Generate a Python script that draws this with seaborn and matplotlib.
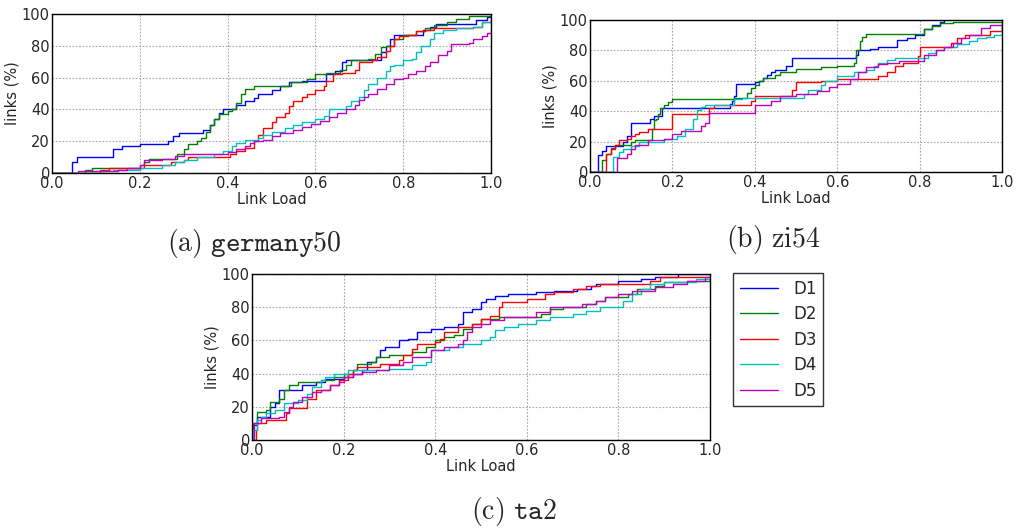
import matplotlib
matplotlib.use("Agg")
import matplotlib.pyplot as plt
import seaborn as sns
import pandas as pd

# Step points (link load, cumulative % of links) for each demand set D1..D5
series_names = ["D1", "D2", "D3", "D4", "D5"]
series_colors = ["#0000ff", "#008000", "#ff0000", "#00bfbf", "#bf00bf"]

# --- germany50 ---
germany50_d1 = [(0.0, 0), (0.045, 7), (0.057, 10), (0.139, 15), (0.16, 17), (0.2, 18), (0.265, 20),
                (0.275, 23), (0.29, 25), (0.345, 27), (0.36, 30), (0.37, 34), (0.38, 38), (0.39, 40),
                (0.42, 43), (0.44, 45), (0.46, 47), (0.47, 50), (0.5, 52), (0.52, 55), (0.54, 57),
                (0.57, 58), (0.625, 62), (0.645, 64), (0.66, 70), (0.67, 71), (0.75, 76), (0.76, 80),
                (0.77, 84), (0.78, 87), (0.845, 90), (0.86, 92), (0.875, 94), (0.965, 96), (0.99, 98),
                (1.0, 98)]
germany50_d2 = [(0.0, 0), (0.075, 2), (0.09, 3), (0.2, 5), (0.21, 7), (0.22, 9), (0.285, 12), (0.3, 15),
                (0.31, 18), (0.33, 20), (0.34, 22), (0.35, 26), (0.36, 30), (0.37, 34), (0.38, 37),
                (0.4, 39), (0.41, 40), (0.42, 44), (0.43, 50), (0.44, 53), (0.46, 55), (0.545, 57),
                (0.58, 59), (0.6, 62), (0.625, 63), (0.655, 65), (0.67, 68), (0.68, 71), (0.72, 72),
                (0.735, 75), (0.75, 79), (0.76, 80), (0.78, 84), (0.8, 87), (0.83, 89), (0.85, 91),
                (0.87, 93), (0.9, 95), (0.92, 97), (0.95, 99), (1.0, 99)]
germany50_d3 = [(0.0, 0), (0.11, 2), (0.13, 3), (0.21, 5), (0.27, 7), (0.3, 8), (0.31, 10), (0.405, 12),
                (0.42, 14), (0.44, 16), (0.46, 20), (0.47, 24), (0.48, 28), (0.5, 32), (0.51, 35),
                (0.53, 38), (0.54, 42), (0.55, 45), (0.57, 48), (0.58, 50), (0.6, 52), (0.62, 55),
                (0.625, 58), (0.64, 62), (0.66, 63), (0.69, 65), (0.7, 70), (0.73, 71), (0.74, 73),
                (0.76, 77), (0.77, 80), (0.78, 84), (0.79, 86), (0.81, 87), (0.83, 89), (0.85, 90),
                (0.87, 91), (0.96, 92), (0.98, 95), (1.0, 97)]
germany50_d4 = [(0.0, 0), (0.09, 1), (0.14, 2), (0.2, 3), (0.25, 5), (0.28, 7), (0.3, 8), (0.33, 10),
                (0.37, 12), (0.39, 14), (0.41, 17), (0.42, 19), (0.44, 21), (0.47, 22), (0.48, 24),
                (0.5, 26), (0.53, 28), (0.55, 30), (0.57, 32), (0.6, 34), (0.62, 36), (0.63, 40),
                (0.67, 42), (0.68, 45), (0.7, 48), (0.71, 52), (0.72, 56), (0.74, 60), (0.76, 64),
                (0.77, 67), (0.78, 68), (0.8, 71), (0.82, 72), (0.83, 76), (0.84, 80), (0.86, 84),
                (0.87, 88), (0.89, 90), (0.92, 91), (0.96, 92), (0.98, 95), (1.0, 96)]
germany50_d5 = [(0.0, 0), (0.06, 1), (0.15, 2), (0.17, 3), (0.2, 5), (0.21, 8), (0.25, 9), (0.28, 11),
                (0.3, 12), (0.4, 13), (0.42, 15), (0.44, 17), (0.45, 19), (0.46, 20), (0.48, 21),
                (0.5, 23), (0.52, 25), (0.55, 27), (0.57, 29), (0.59, 31), (0.61, 33), (0.63, 35),
                (0.65, 38), (0.67, 40), (0.69, 43), (0.7, 46), (0.71, 48), (0.72, 50), (0.74, 53),
                (0.76, 56), (0.78, 59), (0.8, 60), (0.81, 62), (0.83, 64), (0.85, 67), (0.86, 70),
                (0.88, 74), (0.9, 77), (0.91, 81), (0.95, 82), (0.96, 84), (0.98, 86), (0.99, 88),
                (1.0, 90)]

# --- zi54 ---
zi54_d1 = [(0.0, 0), (0.02, 11), (0.03, 14), (0.04, 17), (0.08, 20), (0.09, 24), (0.1, 32), (0.145, 35),
           (0.155, 37), (0.175, 42), (0.34, 45), (0.345, 47), (0.35, 50), (0.355, 58), (0.4, 59),
           (0.41, 60), (0.42, 62), (0.43, 64), (0.44, 66), (0.45, 67), (0.475, 70), (0.49, 75),
           (0.645, 77), (0.65, 80), (0.68, 81), (0.7, 82), (0.745, 87), (0.77, 88), (0.79, 90),
           (0.81, 94), (0.83, 97), (0.85, 99), (0.86, 100)]
zi54_d2 = [(0.0, 0), (0.03, 8), (0.04, 12), (0.05, 16), (0.06, 18), (0.1, 20), (0.11, 21), (0.15, 28),
           (0.155, 34), (0.16, 35), (0.165, 38), (0.17, 42), (0.18, 44), (0.19, 46), (0.2, 48),
           (0.35, 49), (0.38, 52), (0.39, 55), (0.4, 57), (0.41, 60), (0.42, 62), (0.45, 64),
           (0.46, 66), (0.5, 68), (0.56, 69), (0.6, 70), (0.64, 72), (0.645, 80), (0.655, 86),
           (0.66, 89), (0.67, 91), (0.81, 94), (0.83, 96), (0.85, 98), (0.88, 99), (1.0, 99)]
zi54_d3 = [(0.0, 0), (0.04, 12), (0.05, 15), (0.06, 18), (0.07, 21), (0.09, 22), (0.1, 24), (0.11, 25),
           (0.12, 26), (0.14, 28), (0.2, 38), (0.29, 42), (0.3, 44), (0.39, 47), (0.4, 50), (0.49, 54),
           (0.5, 59), (0.56, 60), (0.6, 61), (0.7, 63), (0.72, 66), (0.74, 70), (0.76, 72),
           (0.795, 76), (0.8, 82), (0.875, 85), (0.89, 88), (0.91, 90), (0.97, 93), (1.0, 97)]
zi54_d4 = [(0.0, 0), (0.055, 10), (0.07, 13), (0.08, 15), (0.1, 17), (0.12, 20), (0.18, 22), (0.21, 24),
           (0.23, 28), (0.25, 35), (0.26, 41), (0.27, 43), (0.28, 44), (0.35, 48), (0.37, 49),
           (0.52, 51), (0.53, 54), (0.56, 57), (0.57, 60), (0.6, 63), (0.64, 66), (0.67, 67),
           (0.69, 70), (0.7, 72), (0.72, 74), (0.74, 75), (0.82, 78), (0.84, 80), (0.86, 82),
           (0.89, 84), (0.92, 86), (0.94, 88), (0.96, 89), (0.98, 90), (1.0, 96)]
zi54_d5 = [(0.0, 0), (0.065, 9), (0.09, 12), (0.1, 15), (0.11, 18), (0.14, 21), (0.18, 22), (0.2, 25),
           (0.22, 27), (0.27, 30), (0.28, 32), (0.29, 39), (0.4, 44), (0.44, 47), (0.46, 50),
           (0.5, 51), (0.55, 53), (0.58, 56), (0.6, 58), (0.63, 61), (0.65, 66), (0.67, 69),
           (0.7, 71), (0.72, 72), (0.75, 73), (0.81, 77), (0.84, 80), (0.86, 82), (0.88, 85),
           (0.9, 88), (0.92, 90), (0.95, 95), (0.97, 97), (1.0, 98)]

# --- ta2 ---
ta2_d1 = [(0.0, 0), (0.002, 9), (0.01, 14), (0.04, 20), (0.05, 22), (0.06, 30), (0.11, 33), (0.14, 35),
          (0.16, 37), (0.2, 38), (0.22, 40), (0.24, 42), (0.25, 47), (0.27, 50), (0.28, 54), (0.29, 56),
          (0.32, 60), (0.34, 61), (0.36, 65), (0.39, 67), (0.42, 68), (0.45, 70), (0.46, 77),
          (0.48, 79), (0.5, 83), (0.51, 85), (0.53, 87), (0.56, 88), (0.62, 89), (0.66, 90),
          (0.71, 91), (0.74, 93), (0.75, 94), (0.8, 96), (0.85, 97), (0.88, 98), (0.93, 100),
          (1.0, 100)]
ta2_d2 = [(0.0, 0), (0.002, 10), (0.01, 17), (0.03, 18), (0.04, 23), (0.06, 25), (0.07, 30), (0.08, 33),
          (0.1, 35), (0.15, 36), (0.18, 38), (0.2, 40), (0.22, 42), (0.23, 46), (0.26, 47), (0.27, 50),
          (0.3, 51), (0.35, 53), (0.38, 56), (0.4, 60), (0.42, 62), (0.44, 63), (0.46, 67), (0.48, 70),
          (0.5, 73), (0.54, 74), (0.63, 76), (0.65, 79), (0.68, 80), (0.73, 82), (0.75, 84),
          (0.77, 86), (0.82, 88), (0.84, 91), (0.88, 93), (0.9, 95), (0.95, 96), (1.0, 97)]
ta2_d3 = [(0.0, 0), (0.008, 6), (0.01, 10), (0.03, 12), (0.075, 16), (0.08, 19), (0.12, 25), (0.14, 30),
          (0.17, 33), (0.19, 36), (0.21, 40), (0.22, 42), (0.23, 44), (0.28, 46), (0.32, 48),
          (0.33, 51), (0.35, 55), (0.36, 58), (0.4, 59), (0.41, 61), (0.42, 65), (0.45, 68),
          (0.48, 70), (0.5, 73), (0.52, 75), (0.54, 80), (0.545, 83), (0.6, 85), (0.64, 88),
          (0.66, 89), (0.7, 91), (0.73, 93), (0.76, 94), (0.87, 96), (0.89, 98), (1.0, 98)]
ta2_d4 = [(0.0, 0), (0.002, 6), (0.01, 12), (0.02, 14), (0.03, 16), (0.05, 18), (0.07, 22), (0.1, 24),
          (0.12, 28), (0.13, 32), (0.15, 36), (0.16, 38), (0.18, 40), (0.21, 42), (0.3, 43),
          (0.35, 45), (0.38, 47), (0.39, 54), (0.43, 56), (0.46, 58), (0.5, 60), (0.52, 62),
          (0.53, 66), (0.55, 68), (0.58, 70), (0.62, 72), (0.65, 74), (0.7, 76), (0.73, 78),
          (0.76, 80), (0.81, 84), (0.83, 88), (0.85, 91), (0.87, 94), (0.9, 95), (0.97, 97),
          (1.0, 98)]
ta2_d5 = [(0.0, 0), (0.005, 10), (0.02, 13), (0.06, 14), (0.07, 17), (0.08, 20), (0.09, 23), (0.11, 26),
          (0.13, 29), (0.15, 30), (0.17, 33), (0.19, 35), (0.2, 38), (0.22, 40), (0.24, 41),
          (0.27, 42), (0.3, 45), (0.33, 47), (0.35, 50), (0.39, 54), (0.42, 56), (0.45, 58),
          (0.46, 60), (0.47, 65), (0.48, 68), (0.5, 70), (0.52, 72), (0.55, 74), (0.62, 77),
          (0.65, 80), (0.72, 82), (0.75, 84), (0.77, 86), (0.8, 88), (0.83, 90), (0.88, 92),
          (0.92, 94), (0.95, 96), (0.99, 98), (1.0, 98)]

x_ticks = [0.0, 0.2, 0.4, 0.6, 0.8, 1.0]
y_ticks = [0, 20, 40, 60, 80, 100]

panels = [
    ("germany50", [germany50_d1, germany50_d2, germany50_d3, germany50_d4, germany50_d5]),
    ("zi54", [zi54_d1, zi54_d2, zi54_d3, zi54_d4, zi54_d5]),
    ("ta2", [ta2_d1, ta2_d2, ta2_d3, ta2_d4, ta2_d5]),
]

sns.set_theme(style="whitegrid", rc={
    "axes.edgecolor": "black",
    "axes.linewidth": 1.0,
    "grid.color": "#a8a8a8",
    "grid.linestyle": (0, (1.5, 1.5)),
    "grid.linewidth": 0.8,
    "xtick.major.size": 0,
    "ytick.major.size": 0,
    "xtick.major.pad": 2,
    "ytick.major.pad": 1.5,
})
plt.rcParams["font.family"] = ["DejaVu Sans"]
plt.rcParams["mathtext.fontset"] = "cm"

W, H = 1018, 529
fig = plt.figure(figsize=(W / 100, H / 100), dpi=100)


def px_axes(left, top, right, bottom):
    return fig.add_axes([left / W, 1 - bottom / H, (right - left) / W, (bottom - top) / H])


axes = [
    px_axes(52, 14, 491, 173),
    px_axes(590, 20, 1002, 172),
    px_axes(252, 274, 710, 440),
]

for ax, (name, curves) in zip(axes, panels):
    rows = []
    for label, pts in zip(series_names, curves):
        for load, pct in pts:
            rows.append({"load": load, "pct": pct, "series": label})
    df = pd.DataFrame(rows)
    sns.lineplot(data=df, x="load", y="pct", hue="series", palette=series_colors,
                 drawstyle="steps-post", estimator=None, sort=False, linewidth=1.0,
                 legend=(name == "ta2"), ax=ax)
    ax.set_xlim(0, 1)
    ax.set_ylim(0, 100)
    ax.set_xticks(x_ticks)
    ax.set_yticks(y_ticks)
    ax.set_xticklabels([f"{t:.1f}" for t in x_ticks], fontsize=10.5)
    ax.set_yticklabels([str(t) for t in y_ticks], fontsize=10.5)
    ax.set_xlabel("Link Load", fontsize=10.5, labelpad=1)
    ax.set_ylabel("links (%)", fontsize=10.5, labelpad=2)
    for sp in ax.spines.values():
        sp.set_visible(True)
        sp.set_color("black")
        sp.set_linewidth(1.0)
    ax.grid(True)

handles, labels = axes[2].get_legend_handles_labels()
axes[2].get_legend().remove()
leg = fig.legend(handles, labels, loc="upper left", bbox_to_anchor=(733 / W, 1 - 273 / H),
                 bbox_transform=fig.transFigure, fontsize=12, frameon=True, fancybox=False,
                 edgecolor="black", borderaxespad=0, handlelength=2.3, handletextpad=0.9,
                 labelspacing=0.45, borderpad=0.4)
leg.get_frame().set_linewidth(1.0)
for h in leg.get_lines():
    h.set_linewidth(1.0)

# Sub-figure captions
fig.text(254 / W, 1 - 244 / H, r"$\mathrm{(a)}\ \mathtt{germany50}$", fontsize=20,
         ha="center", va="center")
fig.text(773 / W, 1 - 239 / H, r"$\mathrm{(b)\ zi54}$", fontsize=20, ha="center", va="center")
fig.text(514 / W, 1 - 511 / H, r"$\mathrm{(c)}\ \mathtt{ta2}$", fontsize=20,
         ha="center", va="center")

fig.savefig("out.png", dpi=100)
